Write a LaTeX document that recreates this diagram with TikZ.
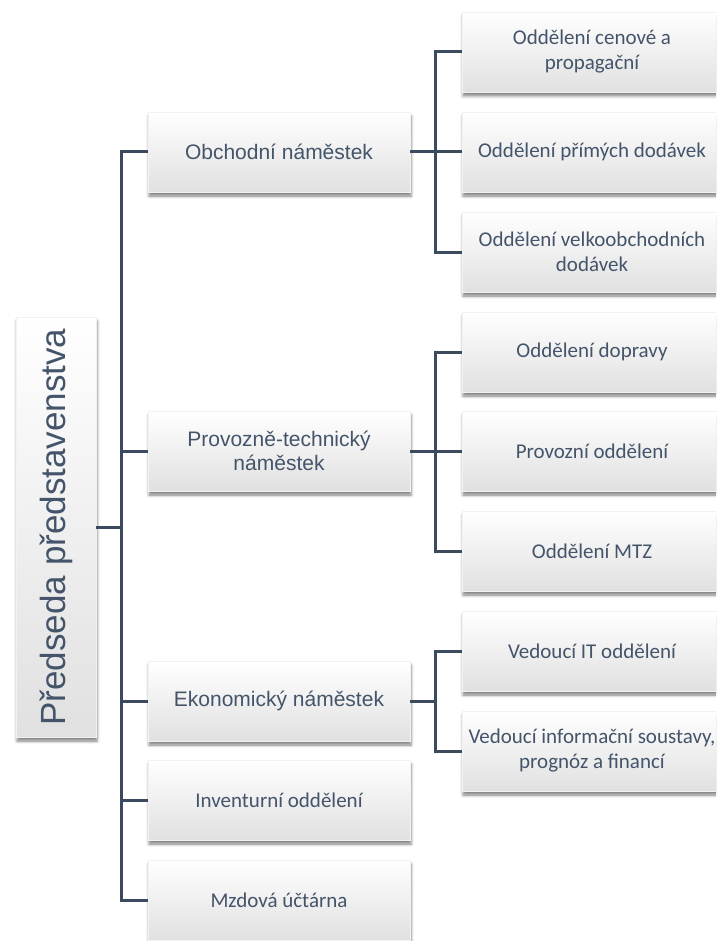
\documentclass[tikz,border=0pt]{standalone}
\usepackage{fontspec}
\usepackage{graphicx}
\setmainfont{Carlito}
\newfontfamily\arialf{Liberation Sans}
\usetikzlibrary{shadows.blur}
\definecolor{txt}{HTML}{44546A}
\definecolor{ln}{HTML}{3B4A5E}
\begin{document}
\begin{tikzpicture}[x=1pt,y=-1pt,
  boxbase/.style={inner sep=0pt, top color=white, middle color=white!96!black, bottom color=black!12, draw=black!5, line width=0.4pt,
    blur shadow={shadow xshift=1pt, shadow yshift=-4pt, shadow blur radius=3pt, shadow opacity=50},
    text=txt, align=center},
  midbox/.style={boxbase, minimum width=262pt, minimum height=80pt, font=\arialf\fontsize{21}{24}\selectfont},
  midboxc/.style={boxbase, minimum width=262pt, minimum height=80pt, font=\fontsize{21}{25}\selectfont},
  rbox/.style={boxbase, minimum width=260pt, minimum height=80pt, font=\fontsize{21}{25}\selectfont},
  conn/.style={draw=ln, line width=3pt}]
\useasboundingbox (0,0) rectangle (716,941);
\begin{scope}
\clip (0,0) rectangle (716,941);
% connectors drawn first (behind boxes)
\coordinate (jl) at (121,527);
\coordinate (ja) at (435,152);
\coordinate (jb) at (435,451);
\coordinate (jc) at (435,701);
% root
\node[boxbase, minimum width=80pt, minimum height=420pt] (root) at (56,527)
  {\rotatebox{90}{\arialf\fontsize{35}{40}\selectfont Předseda představenstva}};
% middle column
\node[midbox] (obch) at (279,152) {Obchodní náměstek};
\node[midbox] (prov) at (279,451) {Provozně-technický\\náměstek};
\node[midbox] (ekon) at (279,701) {Ekonomický náměstek};
\node[midboxc] (inv) at (279,800) {Inventurní oddělení};
\node[midboxc] (mzd) at (279,900) {Mzdová účtárna};
% right column
\node[rbox] (r1) at (592,52) {Oddělení cenové a\\propagační};
\node[rbox] (r2) at (592,152) {Oddělení přímých dodávek};
\node[rbox] (r3) at (592,252) {Oddělení velkoobchodních\\dodávek};
\node[rbox] (r4) at (592,352) {Oddělení dopravy};
\node[rbox] (r5) at (592,451) {Provozní oddělení};
\node[rbox] (r6) at (592,551) {Oddělení MTZ};
\node[rbox] (r7) at (592,651) {Vedoucí IT oddělení};
\node[rbox] (r8) at (592,751) {Vedoucí informační soustavy,\\prognóz a financí};
% connectors: root to middle
\draw[conn] (root.east) -- (jl);
\draw[conn] (obch.west) -| (jl);
\draw[conn] (mzd.west) -| (jl);
\draw[conn] (prov.west) -- (prov.west -| jl);
\draw[conn] (ekon.west) -- (ekon.west -| jl);
\draw[conn] (inv.west) -- (inv.west -| jl);
% obchodni group
\draw[conn] (obch.east) -- (r2.west);
\draw[conn] (r1.west) -| (ja) |- (r3.west);
% provozne group
\draw[conn] (prov.east) -- (r5.west);
\draw[conn] (r4.west) -| (jb) |- (r6.west);
% ekonomicky group
\draw[conn] (ekon.east) -- (jc);
\draw[conn] (r7.west) -| (jc) |- (r8.west);
\end{scope}
\end{tikzpicture}
\end{document}
